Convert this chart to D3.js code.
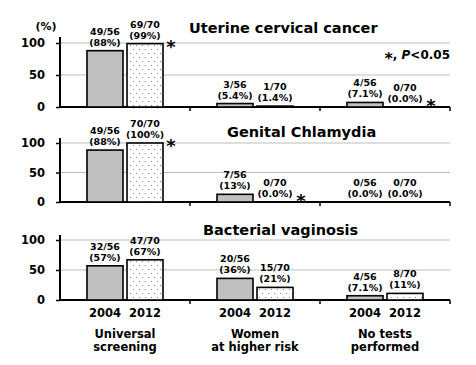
<!DOCTYPE html>
<html><head><meta charset="utf-8">
<script src="https://cdn.jsdelivr.net/npm/d3@7"></script>
<style>body{margin:0;background:#fff}</style>
</head><body>
<script>
const groups = ["Universal screening", "Women at higher risk", "No tests performed"];
const groupLines = [["Universal","screening"],["Women","at higher risk"],["No tests","performed"]];
const years = ["2004", "2012"];
const yTicks = [0, 50, 100];
const panelTitles = ["Uterine cervical cancer", "Genital Chlamydia", "Bacterial vaginosis"];

const cervical2004 = [88, 5.4, 7.1];
const cervical2012 = [99, 1.4, 0.0];
const cervicalN2004 = ["49/56", "3/56", "4/56"];
const cervicalN2012 = ["69/70", "1/70", "0/70"];
const cervicalLab2004 = ["(88%)", "(5.4%)", "(7.1%)"];
const cervicalLab2012 = ["(99%)", "(1.4%)", "(0.0%)"];
const cervicalSig2012 = [true, false, true];

const chlamydia2004 = [88, 13, 0];
const chlamydia2012 = [100, 0, 0];
const chlamydiaN2004 = ["49/56", "7/56", "0/56"];
const chlamydiaN2012 = ["70/70", "0/70", "0/70"];
const chlamydiaLab2004 = ["(88%)", "(13%)", "(0.0%)"];
const chlamydiaLab2012 = ["(100%)", "(0.0%)", "(0.0%)"];
const chlamydiaSig2012 = [true, true, false];

const bv2004 = [57, 36, 7.1];
const bv2012 = [67, 21, 11];
const bvN2004 = ["32/56", "20/56", "4/56"];
const bvN2012 = ["47/70", "15/70", "8/70"];
const bvLab2004 = ["(57%)", "(36%)", "(7.1%)"];
const bvLab2012 = ["(67%)", "(21%)", "(11%)"];
const bvSig2012 = [false, false, false];

const panels = [
  {title: panelTitles[0], v: [cervical2004, cervical2012], n: [cervicalN2004, cervicalN2012], l: [cervicalLab2004, cervicalLab2012], sig: cervicalSig2012, y0: 107, y100: 43, top: 37, tx: 189, ty: 33},
  {title: panelTitles[1], v: [chlamydia2004, chlamydia2012], n: [chlamydiaN2004, chlamydiaN2012], l: [chlamydiaLab2004, chlamydiaLab2012], sig: chlamydiaSig2012, y0: 202, y100: 143, top: 138, tx: 227, ty: 137},
  {title: panelTitles[2], v: [bv2004, bv2012], n: [bvN2004, bvN2012], l: [bvLab2004, bvLab2012], sig: bvSig2012, y0: 300, y100: 240, top: 235, tx: 203, ty: 235}
];

const W = 476, H = 365;
const FONT = "'DejaVu Sans', Verdana, sans-serif";
const svg = d3.select("body").append("svg").attr("width", W).attr("height", H)
  .style("font-family", FONT).style("font-weight", "bold");

const defs = svg.append("defs");
const pat = defs.append("pattern").attr("id", "dots").attr("patternUnits", "userSpaceOnUse")
  .attr("width", 6).attr("height", 8);
pat.append("rect").attr("width", 6).attr("height", 8).attr("fill", "#fff");
pat.append("rect").attr("x", 1).attr("y", 1).attr("width", 1).attr("height", 1).attr("fill", "#888");
pat.append("rect").attr("x", 4).attr("y", 5).attr("width", 1).attr("height", 1).attr("fill", "#888");

const x0 = d3.scaleBand().domain(groups).range([60, 450]);
const x1 = d3.scaleBand().domain(years).range([27, 103]).paddingInner(0.1);

panels.forEach((p, pi) => {
  const y = d3.scaleLinear().domain([0, 100]).range([p.y0, p.y100]);
  const g = svg.append("g");
  // gridlines
  g.selectAll("line.grid").data([50, 100]).enter().append("line")
    .attr("x1", 60).attr("x2", 450).attr("y1", d => y(d)).attr("y2", d => y(d))
    .attr("stroke", "#bdbdbd").attr("stroke-width", 1.2);
  // title
  g.append("text").attr("x", p.tx).attr("y", p.ty).attr("font-size", 14.5).attr("fill", "#000").text(p.title);
  // y axis
  const yAxis = d3.axisLeft(y).tickValues(yTicks).tickSize(4).tickPadding(11).tickFormat(d3.format("d"));
  const ya = g.append("g").attr("transform", "translate(60,0)").call(yAxis);
  ya.select(".domain").remove();
  ya.selectAll(".tick line").attr("stroke", "#000").attr("stroke-width", 1.5);
  ya.selectAll(".tick text").attr("font-size", 11.5).attr("font-family", FONT).attr("font-weight", "bold").attr("fill", "#000");
  g.append("line").attr("x1", 60).attr("x2", 60).attr("y1", p.top).attr("y2", p.y0 + 1)
    .attr("stroke", "#000").attr("stroke-width", 2);
  // x axis
  g.append("line").attr("x1", 59).attr("x2", 450).attr("y1", p.y0).attr("y2", p.y0)
    .attr("stroke", "#000").attr("stroke-width", 2);
  g.selectAll("line.xt").data(groups).enter().append("line")
    .attr("x1", d => x0(d) + x0.bandwidth()).attr("x2", d => x0(d) + x0.bandwidth())
    .attr("y1", p.y0).attr("y2", p.y0 + 4).attr("stroke", "#000").attr("stroke-width", 1.5);
  // bars
  years.forEach((yr, yi) => {
    groups.forEach((grp, gi) => {
      const val = p.v[yi][gi];
      const bx = x0(grp) + x1(yr);
      const bw = x1.bandwidth();
      const top = y(val);
      if (val > 0) {
        g.append("rect").attr("x", bx).attr("y", top).attr("width", bw).attr("height", p.y0 - top)
          .attr("fill", yi === 0 ? "#c0c0c0" : "url(#dots)").attr("stroke", "#000").attr("stroke-width", 1.6);
      }
      const cx = bx + bw / 2;
      const b2 = Math.min(top, p.y0) - 5;
      g.append("text").attr("x", cx).attr("y", b2 - 11).attr("text-anchor", "middle").attr("font-size", 9.5).text(p.n[yi][gi]);
      g.append("text").attr("x", cx).attr("y", b2).attr("text-anchor", "middle").attr("font-size", 9.5).text(p.l[yi][gi]);
      if (yi === 1 && p.sig[gi]) {
        const cy = Math.min(top - 2, p.y0 - 6);
        g.append("text").attr("x", bx + bw + 8).attr("y", cy + 11).attr("text-anchor", "middle")
          .attr("font-size", 18).text("*");
      }
    });
  });
});

// (%) label
svg.append("text").attr("x", 46).attr("y", 30).attr("text-anchor", "middle").attr("font-size", 11).text("(%)");

// significance note
const note = svg.append("text").attr("x", 450).attr("y", 59).attr("text-anchor", "end").attr("font-size", 12);
note.append("tspan").attr("font-size", 16).attr("dy", 5).text("*");
note.append("tspan").attr("dy", -5).text(", ");
note.append("tspan").attr("font-style", "italic").text("P");
note.append("tspan").text("<0.05");

// x labels
const bottom = svg.append("g");
groups.forEach((grp, gi) => {
  years.forEach(yr => {
    bottom.append("text").attr("x", x0(grp) + x1(yr) + x1.bandwidth() / 2).attr("y", 317)
      .attr("text-anchor", "middle").attr("font-size", 11.5).text(yr);
  });
  groupLines[gi].forEach((ln, li) => {
    bottom.append("text").attr("x", x0(grp) + x0.bandwidth() / 2).attr("y", 338 + li * 13)
      .attr("text-anchor", "middle").attr("font-size", 11.5).text(ln);
  });
});
</script>
</body></html>
